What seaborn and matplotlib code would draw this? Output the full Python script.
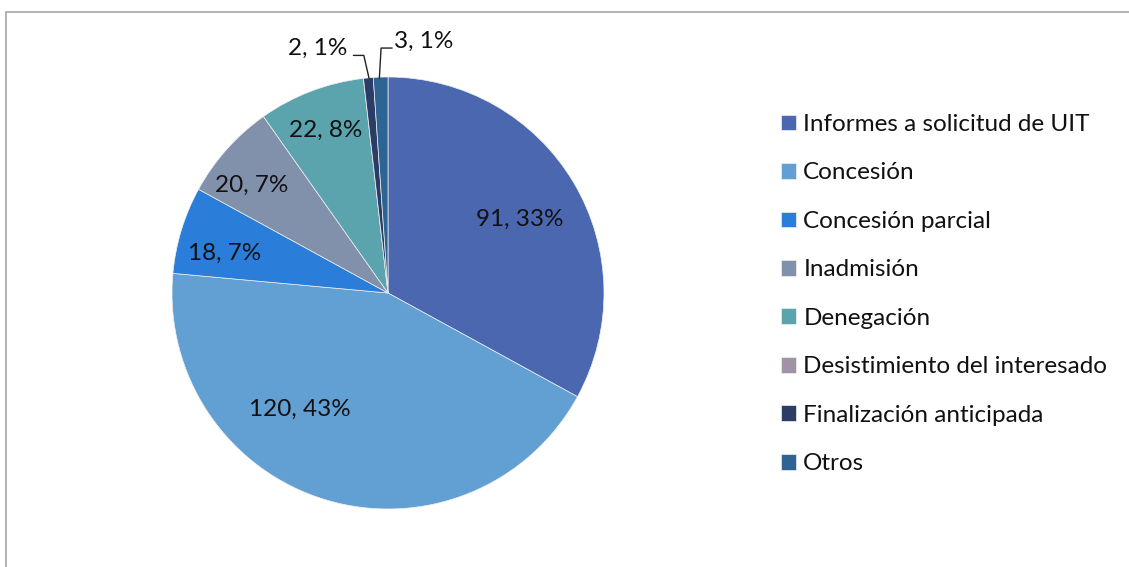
import matplotlib
matplotlib.use("Agg")
import matplotlib.pyplot as plt
import seaborn as sns
import numpy as np
from matplotlib.patches import Rectangle

categories = ["Informes a solicitud de UIT", "Concesión", "Concesión parcial", "Inadmisión",
              "Denegación", "Desistimiento del interesado", "Finalización anticipada", "Otros"]
values = [91, 120, 18, 20, 22, 0, 2, 3]
colors = ["#4A67B0", "#629FD3", "#2A7DD9", "#8191AB", "#5BA4AE", "#A093A5", "#2B3C66", "#2D6493"]

sns.set_theme(style="white")
plt.rcParams['font.family'] = ['Lato', 'DejaVu Sans']

W, H = 1129, 567
fig = plt.figure(figsize=(W / 100, H / 100), dpi=100)
fig.patch.set_facecolor("white")

# chart border
fig.add_artist(Rectangle((6 / W, -0.1), 1.2, 1 - 12 / H + 0.1, transform=fig.transFigure,
                         fill=False, edgecolor="#A6A6A6", linewidth=1.2))

cx, cy, r = 388, 293, 216
ax = fig.add_axes([(cx - r) / W, (H - cy - r) / H, 2 * r / W, 2 * r / H])
wedges, _ = ax.pie(values, colors=colors, startangle=90, counterclock=False, radius=1,
                   wedgeprops=dict(edgecolor="#f0f0f0", linewidth=0.5))
ax.set_xlim(-1, 1)
ax.set_ylim(-1, 1)
ax.set_aspect("auto")
ax.axis("off")

total = sum(values)
label_pos = {0: (0.61, 0.34), 1: (-0.41, -0.54), 2: (-0.755, 0.185), 3: (-0.63, 0.5),
             4: (-0.29, 0.755), 6: (-0.324, 1.134), 7: (0.165, 1.165)}
fs = 17.5
for i, v in enumerate(values):
    if v == 0:
        continue
    x, y = label_pos[i]
    ax.text(x, y, f"{v}, {round(100 * v / total)}%", ha="center", va="center",
            fontsize=fs, color="#111111", clip_on=False)

# leader lines
ax.plot([-0.160, -0.112, -0.088], [1.10, 1.10, 0.995], color="#222222", lw=1, clip_on=False)
ax.plot([0.019, -0.032, -0.040], [1.134, 1.134, 0.995], color="#222222", lw=1, clip_on=False)

leg = fig.legend(wedges, categories, loc="upper left", bbox_to_anchor=(781 / W, 1 - 114 / H),
                 frameon=False, fontsize=fs, handlelength=0.62, handleheight=0.62,
                 handletextpad=0.3, labelspacing=1.13, borderpad=0, borderaxespad=0)
for t in leg.get_texts():
    t.set_color("#111111")

fig.savefig("out.png", dpi=100, facecolor="white")
